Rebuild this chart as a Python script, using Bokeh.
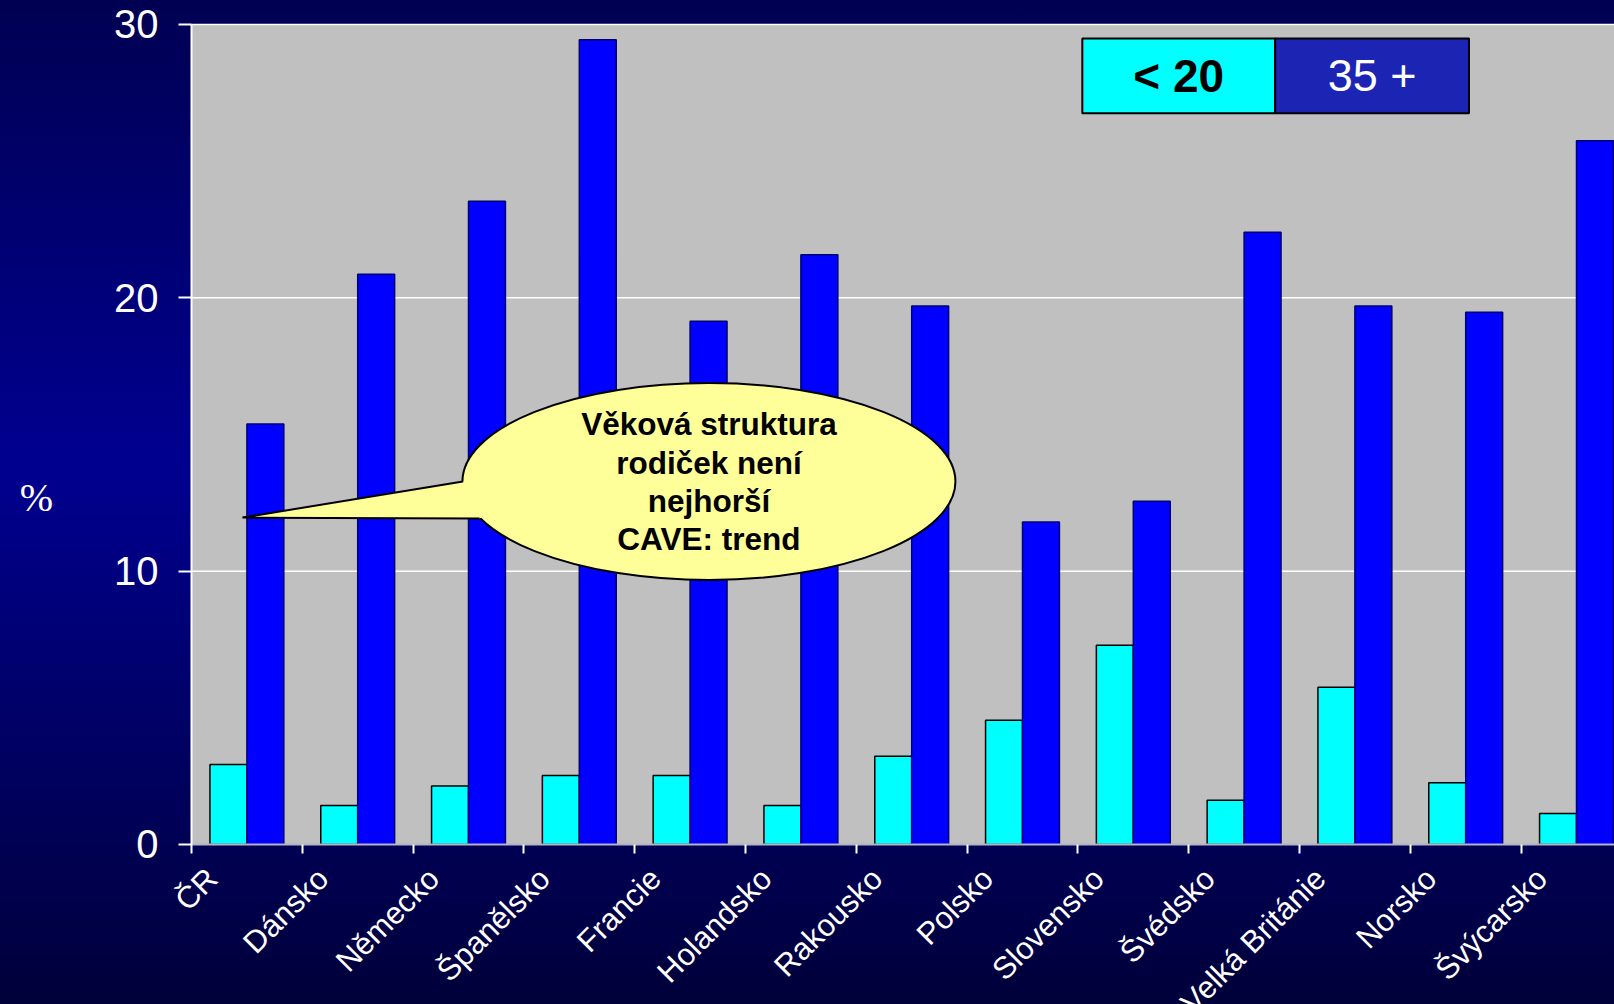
import math
from bokeh.plotting import figure
from bokeh.models import Range1d, FixedTicker, LinearAxis
from bokeh.core.properties import value
from bokeh.embed import file_html
from bokeh.resources import INLINE

# ---------------- data ----------------
countries = ["ČR", "Dánsko", "Německo", "Španělsko", "Francie", "Holandsko", "Rakousko",
             "Polsko", "Slovensko", "Švédsko", "Velká Británie", "Norsko", "Švýcarsko"]
under20 = [2.93, 1.43, 2.14, 2.52, 2.52, 1.43, 3.23, 4.55, 7.29, 1.62, 5.75, 2.26, 1.13]
over35 = [15.38, 20.86, 23.53, 29.44, 19.14, 21.58, 19.7, 11.8, 12.56, 22.4, 19.7, 19.47, 25.75]
y_ticks = [0, 10, 20, 30]
grid_ticks = [10, 20, 30]
y_label = "%"
legend_labels = ["< 20", "35 +"]
callout_lines = ["Věková struktura", "rodiček není", "nejhorší", "CAVE: trend"]

FONT = "Liberation Sans"
GRAD = "linear-gradient(180deg, #000052 0%, #000090 46%, #00003a 100%)"

n = len(countries)
idx = list(range(n))
x_cyan = [i + 0.5 - 0.1667 for i in idx]
x_blue = [i + 0.5 + 0.1667 for i in idx]

# plotting area spans x 0..13 categories, y 0..30 (%); the frame is extended
# around it so that the axes and their labels live inside the frame
Y_TOP = 30
X_MIN, X_MAX = -1.7238, 12.843
Y_MIN, Y_MAX = -5.854, 30.878

p = figure(width=1614, height=1004,
           x_range=Range1d(X_MIN, X_MAX), y_range=Range1d(Y_MIN, Y_MAX),
           x_axis_location=None, y_axis_location=None,
           output_backend="svg", toolbar_location=None,
           min_border_left=0, min_border_right=0, min_border_top=0, min_border_bottom=0)

p.styles = {"background": GRAD}
p.border_fill_alpha = 0
p.background_fill_alpha = 0
p.outline_line_color = None
p.xgrid.visible = False
p.ygrid.visible = False

# grey plotting area and horizontal grid lines
p.quad(left=[0], right=[X_MAX], bottom=[0], top=[Y_TOP], fill_color="#c0c0c0",
       line_color=None, level="image")
p.segment(x0=[0] * len(grid_ticks), x1=[X_MAX] * len(grid_ticks), y0=grid_ticks, y1=grid_ticks,
          line_color="white", line_width=1.5, level="underlay")

# bars
p.vbar(x=x_cyan, top=under20, width=0.3333, fill_color="#00ffff", line_color="black", line_width=1.5)
p.vbar(x=x_blue, top=over35, width=0.3333, fill_color="#0000ff", line_color="#000070", line_width=1.5)

# x axis at y = 0: boundary ticks (minor) and rotated labels (major)
LAB_OFF = 0.187
xa = LinearAxis(fixed_location=0, bounds=(0, X_MAX))
xa.ticker = FixedTicker(ticks=[i + LAB_OFF for i in idx], minor_ticks=list(range(n + 1)))
xa.major_label_overrides = {i + LAB_OFF: c for i, c in zip(idx, countries)}
xa.major_label_orientation = math.pi / 4
xa.major_label_text_color = "white"
xa.major_label_text_font = FONT
xa.major_label_text_font_size = "31px"
xa.major_label_standoff = 20
xa.major_tick_line_color = None
xa.major_tick_out = 0
xa.major_tick_in = 0
xa.minor_tick_line_color = "white"
xa.minor_tick_line_width = 2
xa.minor_tick_out = 9
xa.minor_tick_in = 0
xa.axis_line_color = "#b4b4c8"
xa.axis_line_width = 2
p.add_layout(xa, "below")

# y axis at x = 0
ya = LinearAxis(fixed_location=0, bounds=(0, Y_TOP))
ya.ticker = FixedTicker(ticks=y_ticks)
ya.major_tick_out = 13
ya.major_tick_in = 0
ya.minor_tick_line_color = None
ya.major_tick_line_color = "white"
ya.major_tick_line_width = 2
ya.axis_line_color = "white"
ya.axis_line_width = 2
ya.major_label_text_color = "white"
ya.major_label_text_font = FONT
ya.major_label_text_font_size = "40px"
ya.major_label_standoff = 20
p.add_layout(ya, "left")

p.text(x=[-1.40], y=[12.70], text=[y_label], text_color="white", text_font=value("Liberation Serif"),
       text_font_size="40px", text_align="center", text_baseline="middle")

# legend box
p.quad(left=[8.04, 9.78], right=[9.78, 11.53], bottom=26.75, top=29.49,
       fill_color=["#00ffff", "#1c24b4"], line_color="black", line_width=2)
p.text(x=[8.91], y=[28.12], text=[legend_labels[0]], text_color="black", text_font=value(FONT),
       text_font_size="46px", text_font_style="bold", text_align="center", text_baseline="middle")
p.text(x=[10.655], y=[28.12], text=[legend_labels[1]], text_color="white", text_font=value(FONT),
       text_font_size="45px", text_align="center", text_baseline="middle")

# callout
p.ellipse(x=[4.67], y=[13.28], width=493, height=197, width_units="screen", height_units="screen",
          fill_color="#ffff99", line_color="black", line_width=2)
tail_x = [0.46, 2.45, 2.97, 2.60]
tail_y = [11.96, 13.28, 12.59, 11.93]
p.patch(tail_x, tail_y, fill_color="#ffff99", line_color=None)
p.line([2.45, 0.46, 2.60], [13.28, 11.96, 11.93], line_color="black", line_width=2)
p.text(x=[4.67] * 4, y=[15.37, 13.94, 12.55, 11.16], text=callout_lines, text_color="black",
       text_font=value(FONT), text_font_size="31.5px", text_font_style="bold",
       text_align="center", text_baseline="middle")

open("out.html", "w").write(file_html(p, INLINE))
